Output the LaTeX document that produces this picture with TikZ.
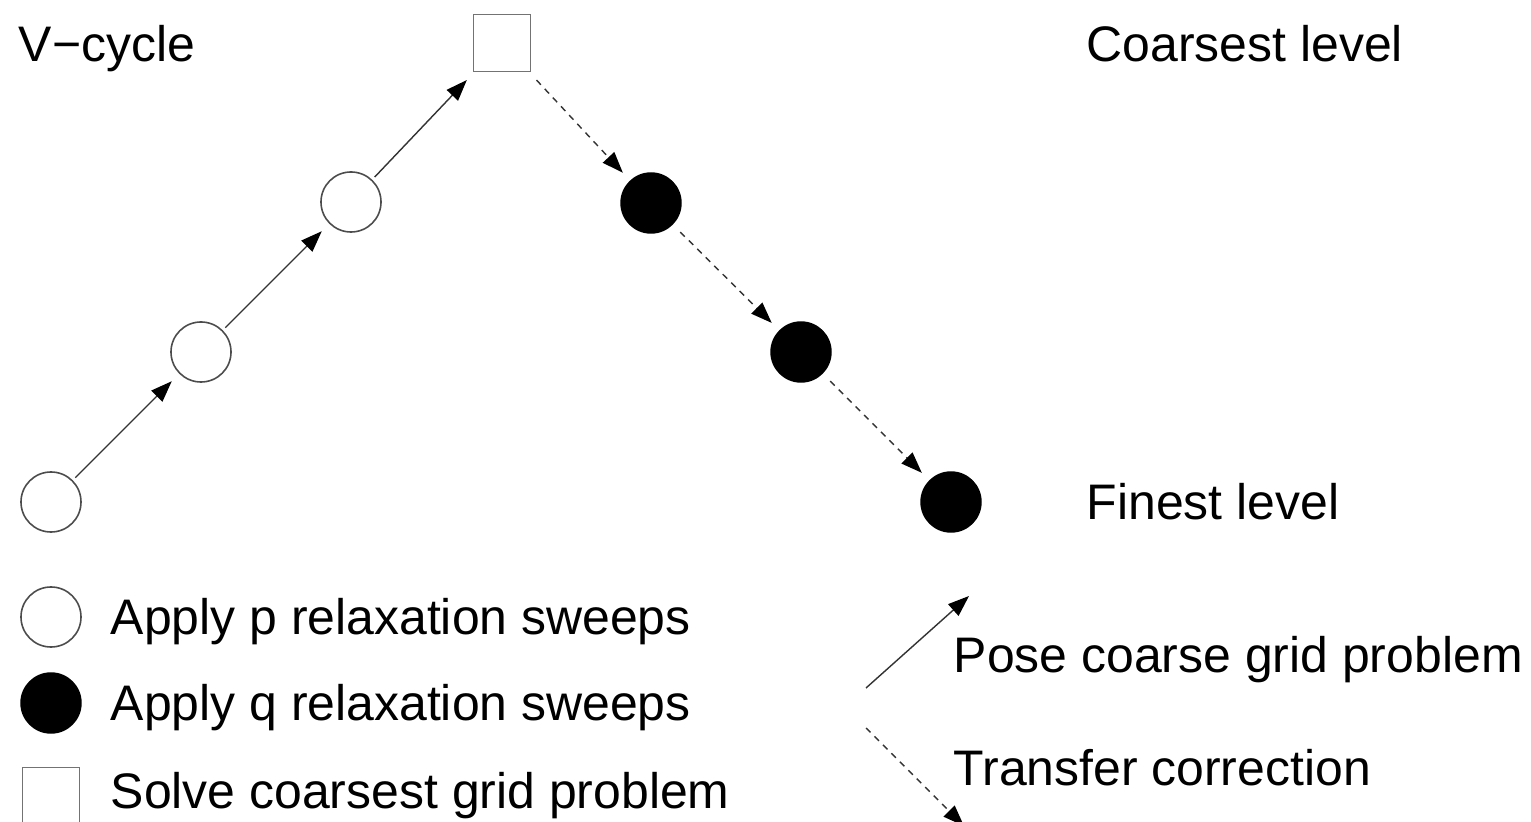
\documentclass[tikz,border=0pt]{standalone}
\usepackage{fontspec}
\setmainfont{Liberation Sans}
\usetikzlibrary{arrows.meta}
\begin{document}
\begin{tikzpicture}[x=0.01cm,y=-0.01cm,
  every node/.style={font=\fontsize{14.2pt}{17pt}\selectfont},
  lbl/.style={anchor=base west, inner sep=0pt},
  opencirc/.style={circle, draw=black!70, line width=0.45pt, fill=white, minimum size=0.6cm, inner sep=0pt},
  fullcirc/.style={circle, draw=black, fill=black, minimum size=0.6cm, inner sep=0pt},
  sqbox/.style={rectangle, draw=black!55, line width=0.5pt, fill=white, minimum size=0.57cm, inner sep=0pt},
  tip/.style={-{Triangle[length=6pt,width=4.4pt,color=black]}},
  up/.style={tip, draw=black!80, line width=0.4pt, shorten <=1pt, shorten >=3pt},
  down/.style={tip, draw=black!80, line width=0.4pt, dash pattern=on 1.8pt off 1.6pt, shorten <=3pt, shorten >=3pt}]
\useasboundingbox (0,0) rectangle (1531,822);
\clip (0,0) rectangle (1531,822);
% main V-cycle
\node[opencirc] (a1) at (51,502) {};
\node[opencirc] (a2) at (201,352) {};
\node[opencirc] (a3) at (351,202) {};
\node[sqbox] (s) at (502,43) {};
\node[fullcirc] (b1) at (651,203) {};
\node[fullcirc] (b2) at (801,352) {};
\node[fullcirc] (b3) at (951,502) {};
\draw[up] (a1) -- (a2);
\draw[up] (a2) -- (a3);
\draw[up] (a3) -- (s);
\draw[down] (s) -- (b1);
\draw[down] (b1) -- (b2);
\draw[down] (b2) -- (b3);
% labels
\node[lbl] (t1) at (18,62) {V−cycle};
\node[lbl] (t2) at (1086,62) {Coarsest level};
\node[lbl] (t3) at (1086,520) {Finest level};
% legend
\node[opencirc] (l1) at (51,617) {};
\node[fullcirc] (l2) at (51,703) {};
\node[sqbox] (l3) at (51,796) {};
\node[lbl] (lt1) at (110,634) {Apply p relaxation sweeps};
\node[lbl] (lt2) at (110,720) {Apply q relaxation sweeps};
\node[lbl] (lt3) at (110,808) {Solve coarsest grid problem};
\coordinate (p0) at (866,688);
\coordinate (p1) at (969,596);
\coordinate (q0) at (866,728);
\coordinate (q1) at (964,826);
\draw[tip, draw=black!80, line width=0.4pt] (p0) -- (p1);
\draw[tip, draw=black!80, line width=0.4pt, dash pattern=on 1.8pt off 1.6pt] (q0) -- (q1);
\node[lbl] (lt4) at (953,672) {Pose coarse grid problem};
\node[lbl] (lt5) at (953,785) {Transfer correction};
\end{tikzpicture}
\end{document}
